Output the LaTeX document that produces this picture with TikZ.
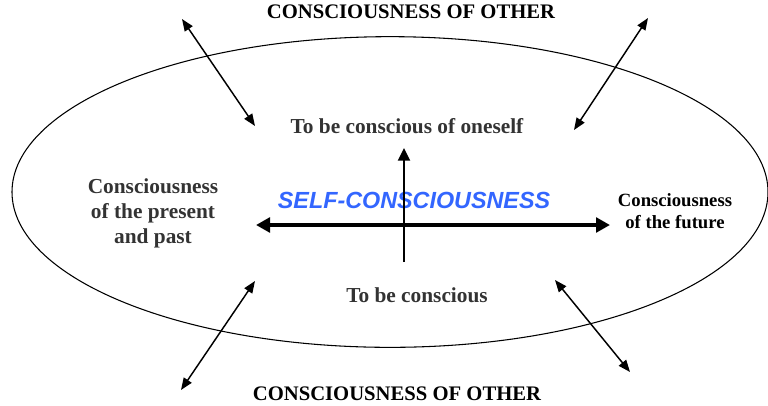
\documentclass[tikz,border=0pt]{standalone}
\usepackage{fontspec}
\setmainfont{Liberation Serif}
\newfontfamily\headsans{Liberation Sans}
\usepackage{xcolor}
\usepackage{tikz}
\usetikzlibrary{shapes.geometric, arrows.meta}
\definecolor{selfblue}{HTML}{3366FF}
\definecolor{darktext}{HTML}{333333}
\tikzstyle{other} = [font=\bfseries\fontsize{15.5}{18}\selectfont, text=black]
\tikzstyle{level} = [font=\bfseries\fontsize{16}{18.75}\selectfont, text=darktext, align=center]
\tikzstyle{future} = [font=\bfseries\fontsize{14}{17}\selectfont, text=black, align=center]
\tikzstyle{link} = [line width=1.1pt, {Triangle[length=9pt,width=7pt]}-{Triangle[length=9pt,width=7pt]}]
\tikzstyle{timeline} = [line width=3pt, {Triangle[length=10.5pt,width=11pt]}-{Triangle[length=10.5pt,width=11pt]}]
\tikzstyle{rise} = [line width=1.5pt, -{Triangle[length=9.5pt,width=9pt]}]

\begin{document}
\begin{tikzpicture}[x=0.75pt, y=-0.75pt]
    \useasboundingbox (0,0) rectangle (768,405);
    % Outer field
    \node (field) [ellipse, draw, line width=0.8pt, inner sep=0pt, minimum width=567pt, minimum height=233pt] at (390,192) {};
    % Nodes
    \node (other_top) [other] at (411,12) {CONSCIOUSNESS OF OTHER};
    \node (other_bottom) [other] at (397,394) {CONSCIOUSNESS OF OTHER};
    \node (oneself) [level] at (407,126) {To be conscious of oneself};
    \node (conscious) [level] at (417,295) {To be conscious};
    \node (past) [level] at (153,213) {Consciousness\\of the present\\and past};
    \node (fut) [future] at (675,211) {Consciousness\\of the future};
    \node (self) [font=\headsans\bfseries\itshape\fontsize{17.5}{20}\selectfont, text=selfblue] at (414,200) {SELF-CONSCIOUSNESS};
    % Arrow ends
    \coordinate (tl_out) at (182,19);
    \coordinate (tl_in) at (255,126);
    \coordinate (tr_out) at (648,18);
    \coordinate (tr_in) at (574,130);
    \coordinate (bl_out) at (181,390);
    \coordinate (bl_in) at (255,281);
    \coordinate (br_out) at (630,372);
    \coordinate (br_in) at (555,280);
    \coordinate (axis_l) at (256,225);
    \coordinate (axis_r) at (610,225);
    \coordinate (axis_b) at (404,262);
    \coordinate (axis_t) at (404,148);
    % Arrows
    \draw [link] (tl_out) -- (tl_in);
    \draw [link] (tr_out) -- (tr_in);
    \draw [link] (bl_out) -- (bl_in);
    \draw [link] (br_out) -- (br_in);
    \draw [timeline] (axis_l) -- (axis_r);
    \draw [rise] (axis_b) -- (axis_t);
\end{tikzpicture}
\end{document}
